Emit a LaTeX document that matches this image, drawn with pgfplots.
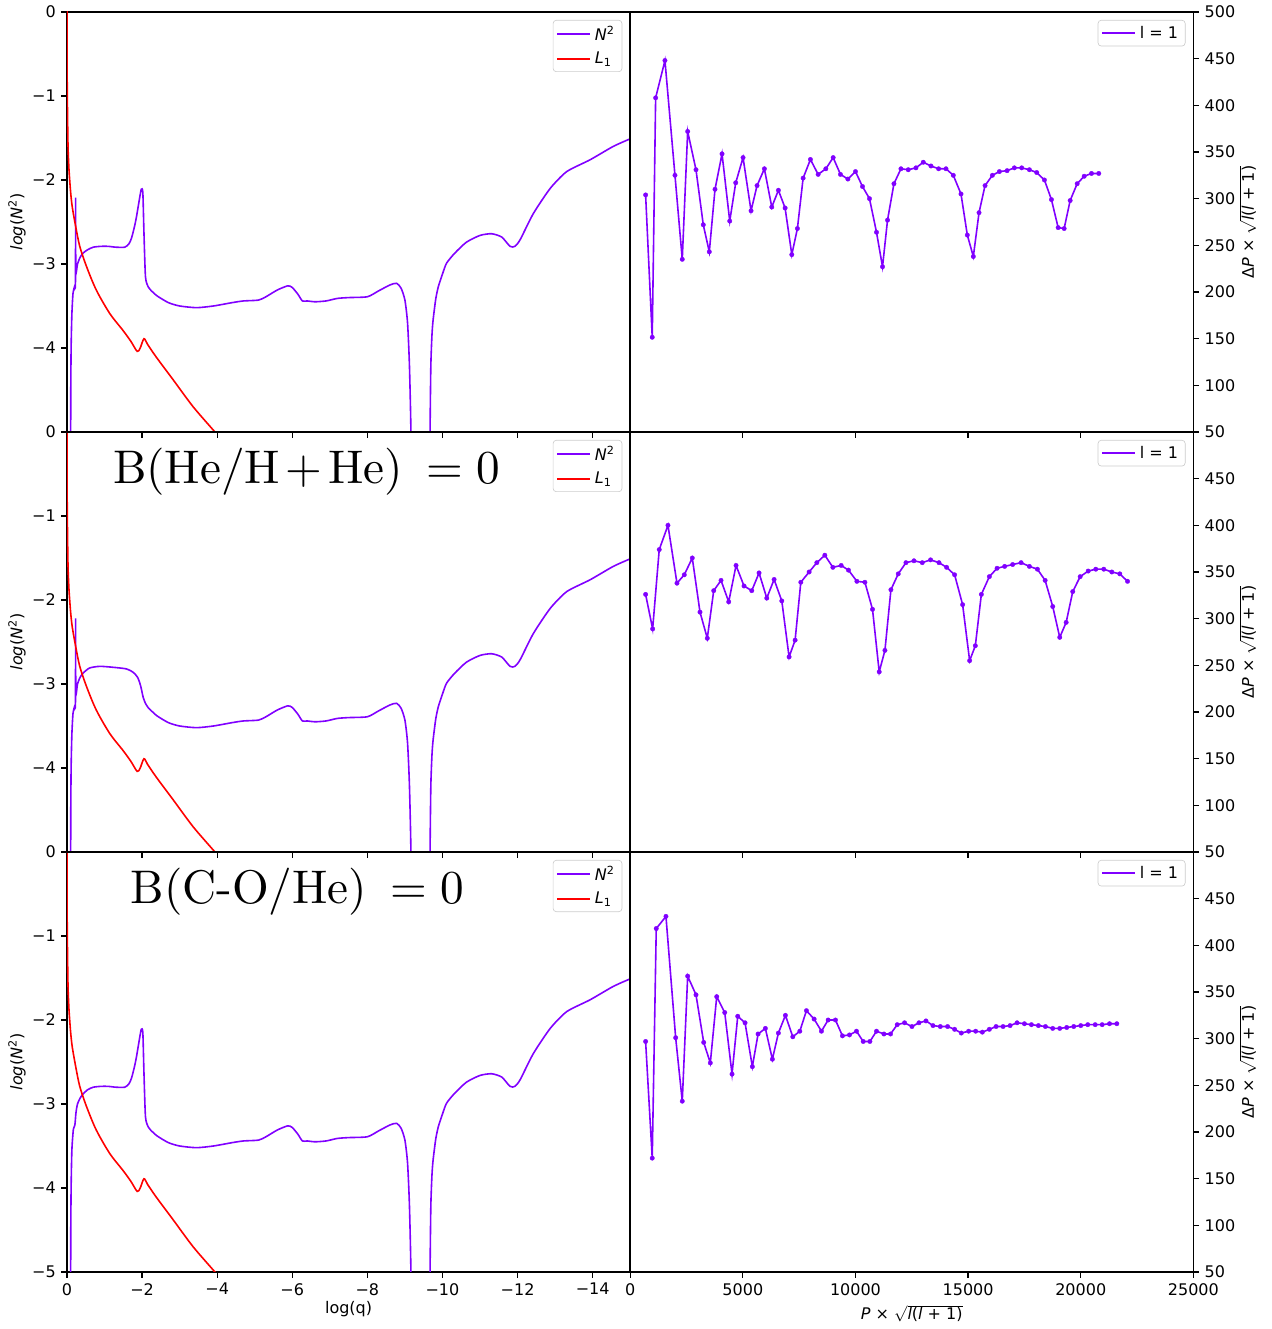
\documentclass[border=0pt]{standalone}
\usepackage[no-math]{fontspec}
\setmainfont{DejaVu Sans}
\usepackage{pgfplots}
\usepackage{pgfplotstable}
\pgfplotsset{compat=1.18}
\definecolor{npurple}{HTML}{8000FF}
\definecolor{lred}{HTML}{FF0000}
\DeclareFontFamily{TU}{lmten}{}
\DeclareFontShape{TU}{lmten}{m}{n}{<-> "[lmroman10-regular]:mapping=tex-text"}{}

\pgfplotstableread{
x y
-0.095 -6
-0.100 -4.6
-0.110 -4.0
-0.130 -3.6
-0.160 -3.35
-0.200 -3.27
-0.225 -3.23
-0.230 -2.21
-0.235 -3.08
-0.280 -3.00
-0.350 -2.92
-0.430 -2.87
-0.550 -2.83
-0.700 -2.80
-0.900 -2.79
-1.100 -2.79
-1.300 -2.80
-1.540 -2.80
-1.650 -2.76
-1.720 -2.69
-1.800 -2.55
-1.850 -2.44
-1.940 -2.20
-1.980 -2.11
-2.020 -2.15
-2.050 -2.63
-2.090 -3.15
-2.160 -3.27
-2.250 -3.32
}\headA
\pgfplotstableread{
x y
-0.095 -6
-0.100 -4.6
-0.110 -4.0
-0.130 -3.6
-0.160 -3.35
-0.200 -3.27
-0.225 -3.23
-0.230 -2.22
-0.235 -3.10
-0.280 -3.00
-0.350 -2.92
-0.430 -2.87
-0.600 -2.81
-0.870 -2.79
-1.200 -2.80
-1.580 -2.82
-1.760 -2.86
-1.880 -2.92
-1.960 -3.02
-2.030 -3.16
-2.090 -3.23
-2.160 -3.28
-2.250 -3.32
}\headB
\pgfplotstableread{
x y
-0.095 -6
-0.100 -4.6
-0.110 -4.0
-0.130 -3.55
-0.170 -3.30
-0.210 -3.25
-0.240 -3.10
-0.280 -3.00
-0.350 -2.93
-0.430 -2.88
-0.550 -2.83
-0.700 -2.80
-0.900 -2.79
-1.100 -2.79
-1.300 -2.80
-1.540 -2.80
-1.650 -2.76
-1.720 -2.69
-1.800 -2.55
-1.850 -2.44
-1.940 -2.20
-1.980 -2.11
-2.020 -2.15
-2.050 -2.63
-2.090 -3.15
-2.160 -3.27
-2.250 -3.32
}\headC
\pgfplotstableread{
x y
-2.25 -3.32
-2.40 -3.38
-2.70 -3.46
-3.00 -3.50
-3.45 -3.52
-3.90 -3.50
-4.40 -3.46
-4.70 -3.44
-5.10 -3.43
-5.30 -3.39
-5.60 -3.31
-5.88 -3.26
-6.00 -3.28
-6.15 -3.36
-6.27 -3.44
-6.40 -3.44
-6.60 -3.45
-6.90 -3.44
-7.20 -3.41
-7.50 -3.40
-8.00 -3.39
-8.30 -3.32
-8.60 -3.25
-8.78 -3.23
-8.90 -3.29
-9.00 -3.43
-9.07 -3.70
-9.12 -4.20
-9.16 -5.00
-9.17 -6
}\midN
\pgfplotstableread{
x y
-9.660 -6
-9.670 -5.0
-9.690 -4.22
-9.720 -3.85
-9.750 -3.67
-9.820 -3.42
-9.890 -3.27
-10.00 -3.12
-10.11 -2.99
-10.33 -2.87
-10.64 -2.74
-11.00 -2.66
-11.31 -2.64
-11.58 -2.68
-11.80 -2.79
-11.93 -2.79
-12.07 -2.71
-12.42 -2.40
-12.87 -2.10
-13.31 -1.90
-13.93 -1.76
-14.55 -1.60
-15.00 -1.51
}\outN
\pgfplotstableread{
x y
-0.0005 0.3
-0.002 -0.4
-0.005 -0.8
-0.010 -1.05
-0.020 -1.40
-0.030 -1.64
-0.050 -1.85
-0.070 -1.99
-0.100 -2.16
-0.140 -2.32
-0.230 -2.55
-0.340 -2.79
-0.520 -3.03
-0.780 -3.31
-1.140 -3.59
-1.490 -3.79
-1.700 -3.92
-1.870 -4.04
-1.950 -4.00
-2.050 -3.89
-2.150 -3.96
-2.380 -4.11
-2.830 -4.38
-3.360 -4.70
-3.940 -5.00
-4.100 -5.09
}\Lone
\pgfplotstableread{
P dP
684 304
978 151.5
1129 408
1542 448
1987 325
2311 235
2551 372
2920 331
3244 272
3511 243
3764 310
4076 348
4418 276
4684 317
5009 344
5364 287
5631 314
5956 332
6284 291
6578 309
6876 290
7173 240
7422 268
7676 322
8000 342
8342 326
8684 332
9009 344
9333 326
9662 321
10000 329
10311 313
10622 300
10933 264
11200 227
11422 277
11707 316
12018 332
12342 331
12684 333
13009 339
13351 335
13689 332
14018 332
14342 325
14684 305
14964 261
15231 238
15484 285
15751 314
16076 325
16387 329
16729 330
17053 333
17378 333
17720 331
18044 328
18387 320
18698 299
18996 269
19262 268
19529 298
19840 316
20151 324
20476 327
20800 327
}\dpA
\pgfplotstableread{
P dP
684 326
996 289
1289 374
1676 400
2076 338
2400 347
2756 365
3098 307
3422 279
3707 330
4031 341
4373 318
4698 357
5053 335
5396 330
5720 349
6062 322
6387 342
6729 319
7053 259
7320 277
7573 339
7942 350
8284 360
8640 368
8996 355
9364 357
9689 352
10062 340
10418 339
10756 310
11053 243
11307 266
11573 331
11898 348
12240 360
12596 362
12964 360
13333 363
13707 360
14044 355
14400 347
14756 315
15067 255
15320 271
15587 326
15942 345
16284 354
16622 356
16978 358
17351 360
17720 356
18076 353
18418 341
18756 313
19067 280
19351 296
19644 329
19973 345
20329 351
20667 353
21022 353
21378 350
21733 348
22076 340
}\dpB
\pgfplotstableread{
P dP
684 297
978 172
1156 418
1587 431
2018 301
2311 233
2551 367
2920 347
3262 296
3556 274
3840 345
4196 328
4520 262
4773 324
5098 317
5422 270
5676 305
6000 311
6311 278
6578 306
6889 325
7218 302
7529 308
7822 330
8164 321
8489 308
8787 320
9111 320
9422 303
9733 304
10044 308
10342 297
10640 297
10933 308
11262 305
11556 305
11853 315
12178 317
12507 313
12818 317
13129 319
13440 314
13764 313
14089 313
14400 310
14698 306
15022 308
15333 308
15631 307
15942 310
16240 313
16551 313
16862 314
17173 317
17498 316
17809 315
18120 314
18431 313
18756 311
19067 311
19378 312
19689 313
20000 314
20311 315
20640 315
20951 315
21276 316
21600 316
}\dpC

\newcommand{\lmtext}{\fontfamily{lmten}\fontseries{m}\fontshape{n}\selectfont}

\pgfplotsset{
  base/.style={
    scale only axis, width=352pt, height=262.5pt,
    scaled x ticks=false, scaled y ticks=false,
    axis line style={line width=0.8pt, black},
    tick style={black, line width=0.8pt},
    major tick length=3.5pt, tick align=outside,
    tick label style={font=\fontsize{10}{12}\selectfont},
    label style={font=\fontsize{10}{12}\selectfont},
    legend cell align=left,
    legend style={draw=black!20, rounded corners=2pt, fill=white, fill opacity=0.8, text opacity=1,
      font=\fontsize{10}{12}\selectfont, inner xsep=2pt, inner ysep=1pt, row sep=1pt,
      nodes={inner sep=2.5pt}},
    legend image code/.code={\draw[#1, line width=1pt] (0pt,0pt) -- (20.6pt,0pt);},
  },
  leftax/.style={base,
    xmin=-15, xmax=0, ymin=-5, ymax=0, x dir=reverse,
    xtick={0,-2,-4,-6,-8,-10,-12,-14}, ytick={-5,-4,-3,-2,-1,0},
    xtick pos=left, ytick pos=left,
    ylabel={\textit{log}(\textit{N}\textsuperscript{2})},
    ylabel style={at={([xshift=-31.25pt]axis description cs:0,0.5)}, anchor=center},
    legend style={at={(rel axis cs:0.986,0.981)}, anchor=north east},
  },
  rightax/.style={base,
    xmin=0, xmax=25000, ymin=50, ymax=500,
    xtick={0,5000,10000,15000,20000,25000},
    xtick pos=left, ytick pos=right, yticklabel pos=right,
    ylabel={Δ\textit{P} × $\sqrt{\mbox{\textit{l}(\textit{l} + 1)}}$},
    ylabel style={at={([xshift=34pt]axis description cs:1,0.5)}, anchor=center},
    legend style={at={(rel axis cs:0.986,0.981)}, anchor=north east},
  },
  npl/.style={color=npurple, line width=1pt, smooth, tension=0.4},
  lpl/.style={color=lred, line width=1pt, smooth, tension=0.5},
  dpl/.style={color=npurple, line width=1pt, mark=*, mark size=1.4pt, mark options={line width=0.2pt}},
}

\begin{document}
\begin{tikzpicture}
\useasboundingbox (-41.875pt,-35.625pt) rectangle (752.5pt,795pt);

% Row 1 left
\begin{axis}[leftax, at={(0pt,525pt)}, anchor=south west,
  xticklabels={}, yticklabels={{},−4,−3,−2,−1,0}]
\addplot[npl] table {\headA}; \addlegendentry{\textit{N}\textsuperscript{2}}
\addplot[lpl] table {\Lone}; \addlegendentry{\textit{L}\textsubscript{1}}
\addplot[npl, forget plot] table {\midN};
\addplot[npl, forget plot] table {\outN};
\end{axis}

% Row 1 right
\begin{axis}[rightax, at={(352pt,525pt)}, anchor=south west,
  xticklabels={}, ytick={50,100,...,500},
  yticklabels={50,100,150,200,250,300,350,400,450,500}]
\addplot[dpl] table {\dpA}; \addlegendentry{l = 1}
\end{axis}

% Row 2 left
\begin{axis}[leftax, at={(0pt,262.5pt)}, anchor=south west,
  xticklabels={}, yticklabels={{},−4,−3,−2,−1,0}]
\addplot[npl] table {\headB}; \addlegendentry{\textit{N}\textsuperscript{2}}
\addplot[lpl] table {\Lone}; \addlegendentry{\textit{L}\textsubscript{1}}
\addplot[npl, forget plot] table {\midN};
\addplot[npl, forget plot] table {\outN};
\node[anchor=base west, inner sep=0pt, font=\fontsize{29.5}{34}\lmtext] at (rel axis cs:0.0815,0.878) {B(He/H\hspace{0.12em}+\hspace{0.12em}He)\hspace{0.5em}=\hspace{0.28em}0};
\end{axis}

% Row 2 right
\begin{axis}[rightax, at={(352pt,262.5pt)}, anchor=south west,
  xticklabels={}, ytick={50,100,...,450},
  yticklabels={50,100,150,200,250,300,350,400,450}]
\addplot[dpl] table {\dpB}; \addlegendentry{l = 1}
\end{axis}

% Row 3 left
\begin{axis}[leftax, at={(0pt,0pt)}, anchor=south west,
  xticklabels={0,−2,−4,−6,−8,−10,−12,−14}, yticklabels={−5,−4,−3,−2,−1,0},
  xlabel={log(q)},
  xlabel style={at={([yshift=-23pt]axis description cs:0.5,0)}, anchor=center}]
\addplot[npl] table {\headC}; \addlegendentry{\textit{N}\textsuperscript{2}}
\addplot[lpl] table {\Lone}; \addlegendentry{\textit{L}\textsubscript{1}}
\addplot[npl, forget plot] table {\midN};
\addplot[npl, forget plot] table {\outN};
\node[anchor=base west, inner sep=0pt, font=\fontsize{29.5}{34}\lmtext] at (rel axis cs:0.1125,0.878) {B(C-O/He)\hspace{0.5em}=\hspace{0.28em}0};
\end{axis}

% Row 3 right
\begin{axis}[rightax, at={(352pt,0pt)}, anchor=south west,
  xticklabels={0,5000,10000,15000,20000,25000}, ytick={50,100,...,450},
  yticklabels={50,100,150,200,250,300,350,400,450},
  xlabel={\textit{P} × $\sqrt{\mbox{\textit{l}(\textit{l} + 1)}}$},
  xlabel style={at={([yshift=-26pt]axis description cs:0.5,0)}, anchor=center}]
\addplot[dpl] table {\dpC}; \addlegendentry{l = 1}
\end{axis}

% heavier shared spines between panels
\draw[line width=1.6pt] (0pt,262.5pt) -- (704pt,262.5pt);
\draw[line width=1.6pt] (0pt,525pt) -- (704pt,525pt);
\draw[line width=1.6pt] (352pt,0pt) -- (352pt,787.5pt);
\end{tikzpicture}
\end{document}
